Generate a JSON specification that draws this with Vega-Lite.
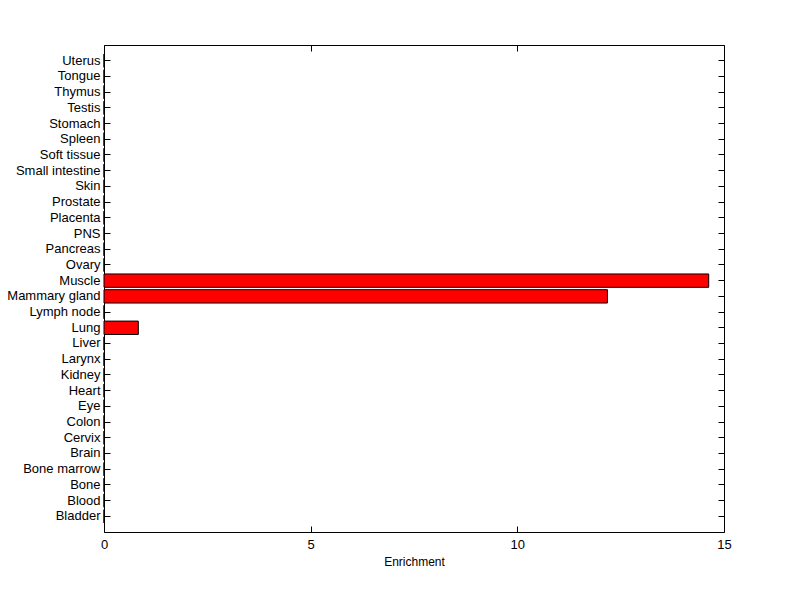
{
  "$schema": "https://vega.github.io/schema/vega-lite/v6.json",
  "width": 620,
  "height": 487,
  "autosize": {"type": "none"},
  "padding": {"left": 104, "top": 45, "right": 76, "bottom": 67},
  "background": "white",
  "config": {
    "view": {"stroke": null},
    "axis": {
      "domainColor": "black",
      "tickColor": "black",
      "labelColor": "black",
      "titleColor": "black",
      "labelFont": "Liberation Sans",
      "titleFont": "Liberation Sans",
      "labelFontSize": 13,
      "titleFontSize": 12,
      "titleFontWeight": "normal",
      "grid": false,
      "tickSize": -6,
      "labelFlush": false
    }
  },
  "data": {
    "values": [
      {"tissue": "Bladder", "enrichment": 0},
      {"tissue": "Blood", "enrichment": 0},
      {"tissue": "Bone", "enrichment": 0},
      {"tissue": "Bone marrow", "enrichment": 0},
      {"tissue": "Brain", "enrichment": 0},
      {"tissue": "Cervix", "enrichment": 0},
      {"tissue": "Colon", "enrichment": 0},
      {"tissue": "Eye", "enrichment": 0},
      {"tissue": "Heart", "enrichment": 0},
      {"tissue": "Kidney", "enrichment": 0},
      {"tissue": "Larynx", "enrichment": 0},
      {"tissue": "Liver", "enrichment": 0},
      {"tissue": "Lung", "enrichment": 0.83},
      {"tissue": "Lymph node", "enrichment": 0},
      {"tissue": "Mammary gland", "enrichment": 12.18},
      {"tissue": "Muscle", "enrichment": 14.63},
      {"tissue": "Ovary", "enrichment": 0},
      {"tissue": "Pancreas", "enrichment": 0},
      {"tissue": "PNS", "enrichment": 0},
      {"tissue": "Placenta", "enrichment": 0},
      {"tissue": "Prostate", "enrichment": 0},
      {"tissue": "Skin", "enrichment": 0},
      {"tissue": "Small intestine", "enrichment": 0},
      {"tissue": "Soft tissue", "enrichment": 0},
      {"tissue": "Spleen", "enrichment": 0},
      {"tissue": "Stomach", "enrichment": 0},
      {"tissue": "Testis", "enrichment": 0},
      {"tissue": "Thymus", "enrichment": 0},
      {"tissue": "Tongue", "enrichment": 0},
      {"tissue": "Uterus", "enrichment": 0}
    ]
  },
  "layer": [
    {
      "mark": {"type": "bar", "fill": "#ff0000", "stroke": "black", "strokeWidth": 1},
      "encoding": {
        "y": {
          "field": "tissue", "type": "nominal",
          "sort": ["Uterus","Tongue","Thymus","Testis","Stomach","Spleen","Soft tissue","Small intestine","Skin","Prostate","Placenta","PNS","Pancreas","Ovary","Muscle","Mammary gland","Lymph node","Lung","Liver","Larynx","Kidney","Heart","Eye","Colon","Cervix","Brain","Bone marrow","Bone","Blood","Bladder"],
          "scale": {"paddingInner": 0.15, "paddingOuter": 0.575},
          "axis": {"orient": "left", "title": null, "labelPadding": 10}
        },
        "x": {
          "field": "enrichment", "type": "quantitative",
          "scale": {"domain": [0, 15], "nice": false},
          "axis": {"orient": "bottom", "title": "Enrichment", "values": [0, 5, 10, 15], "labelPadding": 12, "titlePadding": 5}
        }
      }
    },
    {
      "mark": {"type": "bar", "opacity": 0},
      "encoding": {
        "y": {
          "field": "tissue", "type": "nominal",
          "sort": ["Uterus","Tongue","Thymus","Testis","Stomach","Spleen","Soft tissue","Small intestine","Skin","Prostate","Placenta","PNS","Pancreas","Ovary","Muscle","Mammary gland","Lymph node","Lung","Liver","Larynx","Kidney","Heart","Eye","Colon","Cervix","Brain","Bone marrow","Bone","Blood","Bladder"],
          "axis": {"orient": "right", "title": null, "labels": false}
        },
        "x": {
          "field": "enrichment", "type": "quantitative",
          "axis": {"orient": "top", "title": null, "labels": false, "values": [0, 5, 10, 15]}
        }
      }
    }
  ],
  "resolve": {"axis": {"x": "independent", "y": "independent"}}
}
